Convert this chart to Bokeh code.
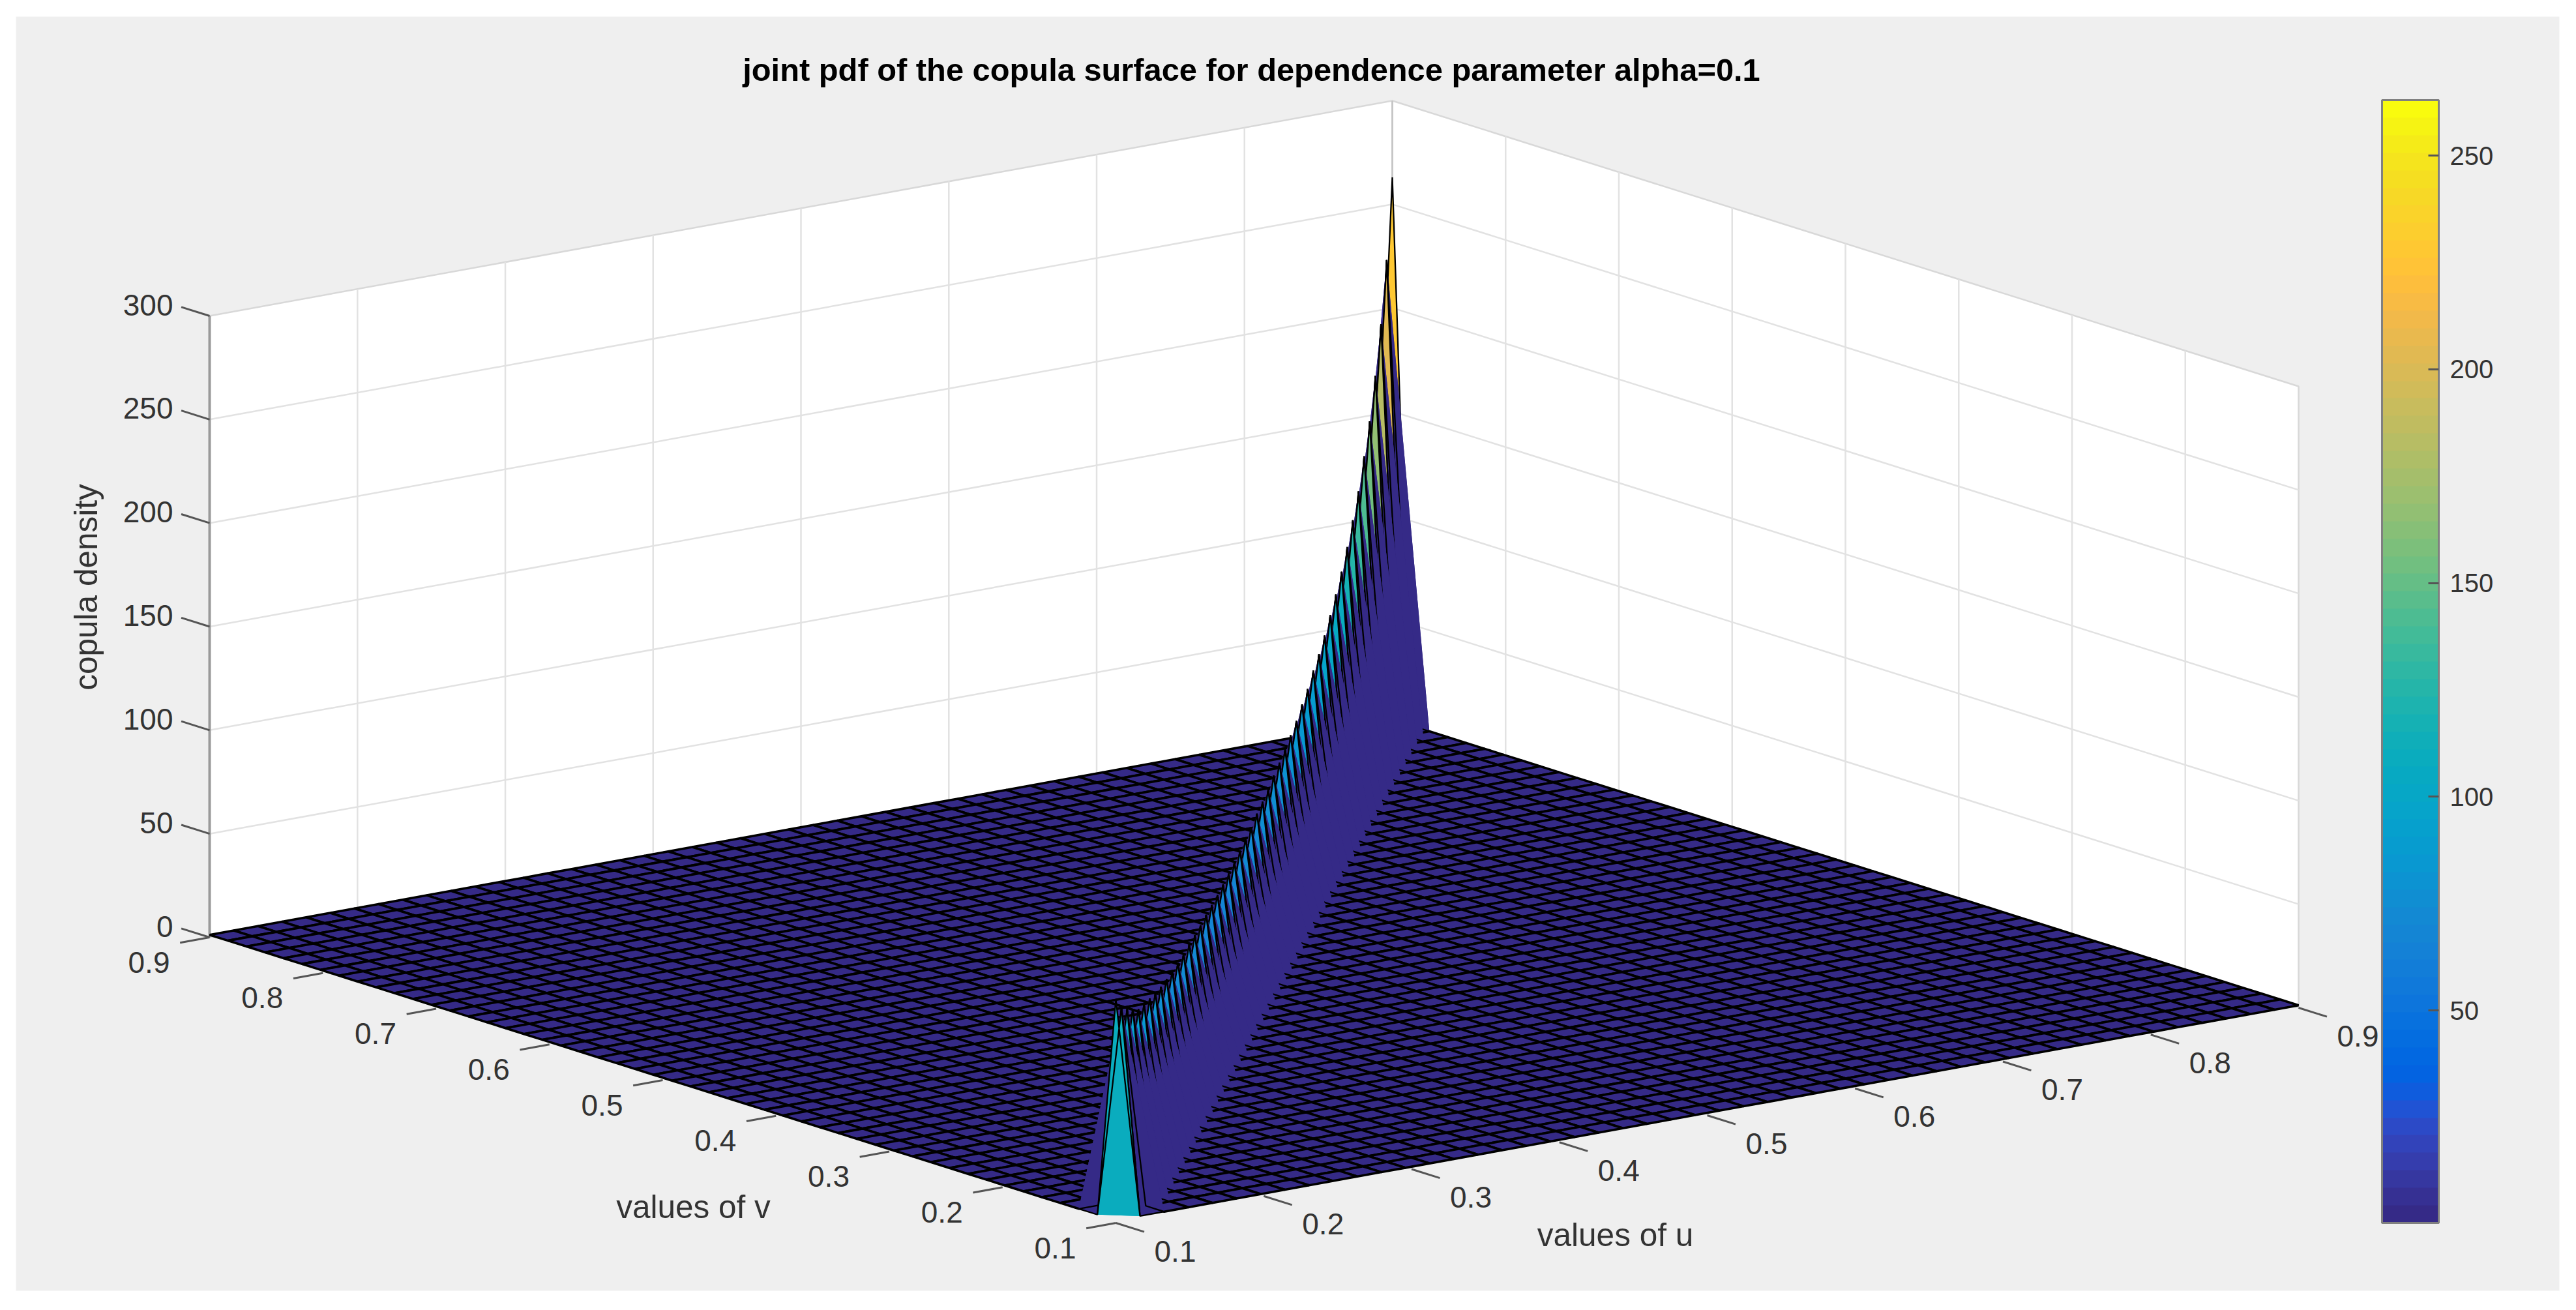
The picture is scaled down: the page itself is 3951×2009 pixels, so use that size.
from math import pi

from bokeh.core.properties import value
from bokeh.embed import file_html
from bokeh.models import ColorBar, ColumnDataSource, FixedTicker, LinearColorMapper, Range1d
from bokeh.plotting import figure
from bokeh.resources import INLINE
from bokeh.transform import transform

# mesh nodes, same for u and v
grid_nodes = [0.1000, 0.1163, 0.1327, 0.1490, 0.1653, 0.1816, 0.1980, 0.2143, 0.2306, 0.2469,
              0.2633, 0.2796, 0.2959, 0.3122, 0.3286, 0.3449, 0.3612, 0.3776, 0.3939, 0.4102,
              0.4265, 0.4429, 0.4592, 0.4755, 0.4918, 0.5082, 0.5245, 0.5408, 0.5571, 0.5735,
              0.5898, 0.6061, 0.6224, 0.6388, 0.6551, 0.6714, 0.6878, 0.7041, 0.7204, 0.7367,
              0.7531, 0.7694, 0.7857, 0.8020, 0.8184, 0.8347, 0.8510, 0.8673, 0.8837, 0.9000]
# density on the diagonal u=v, read from the spike
ridge_density = [108, 99, 93.4, 88.5, 83.5, 81, 78.7, 76.4, 74.6, 73.3,
                 72, 71.3, 70.6, 70.4, 69.8, 69.6, 69.8, 69.6, 69.5, 69.6,
                 70, 70.3, 71.2, 72, 72.8, 74.2, 75, 75.9, 77.9, 79,
                 80.6, 82.5, 84.5, 87.5, 90, 94, 97, 101, 106, 111,
                 117, 124, 132, 141, 153, 165, 182, 202, 228, 263]
flat_density = 1.2

uv_ticks = [0.1, 0.2, 0.3, 0.4, 0.5, 0.6, 0.7, 0.8, 0.9]
uv_labels = ["0.1", "0.2", "0.3", "0.4", "0.5", "0.6", "0.7", "0.8", "0.9"]
z_ticks = [0, 50, 100, 150, 200, 250, 300]
z_labels = ["0", "50", "100", "150", "200", "250", "300"]
cbar_ticks = [50, 100, 150, 200, 250]
cbar_low = 0.3
cbar_high = 263

title_text = "joint pdf of the copula surface for dependence parameter alpha=0.1"
u_label = "values of u"
v_label = "values of v"
z_label = "copula density"

# parula, 64 steps
parula_rgb = [
    (0.2081, 0.1663, 0.5292), (0.2116, 0.1898, 0.5777), (0.2123, 0.2138, 0.6270), (0.2081, 0.2386, 0.6771),
    (0.1959, 0.2645, 0.7279), (0.1707, 0.2919, 0.7792), (0.1253, 0.3242, 0.8303), (0.0591, 0.3598, 0.8683),
    (0.0117, 0.3875, 0.8820), (0.0060, 0.4086, 0.8828), (0.0165, 0.4266, 0.8786), (0.0329, 0.4430, 0.8720),
    (0.0498, 0.4586, 0.8641), (0.0629, 0.4737, 0.8554), (0.0723, 0.4887, 0.8467), (0.0779, 0.5040, 0.8384),
    (0.0793, 0.5200, 0.8312), (0.0749, 0.5375, 0.8263), (0.0641, 0.5570, 0.8240), (0.0488, 0.5772, 0.8228),
    (0.0343, 0.5966, 0.8199), (0.0265, 0.6137, 0.8135), (0.0239, 0.6287, 0.8038), (0.0231, 0.6418, 0.7913),
    (0.0228, 0.6535, 0.7768), (0.0267, 0.6642, 0.7607), (0.0384, 0.6743, 0.7436), (0.0590, 0.6838, 0.7254),
    (0.0843, 0.6928, 0.7062), (0.1133, 0.7015, 0.6859), (0.1453, 0.7098, 0.6646), (0.1801, 0.7177, 0.6424),
    (0.2178, 0.7250, 0.6193), (0.2586, 0.7317, 0.5954), (0.3022, 0.7376, 0.5712), (0.3482, 0.7424, 0.5473),
    (0.3953, 0.7459, 0.5244), (0.4420, 0.7481, 0.5033), (0.4871, 0.7491, 0.4840), (0.5300, 0.7491, 0.4661),
    (0.5709, 0.7485, 0.4494), (0.6099, 0.7473, 0.4337), (0.6473, 0.7456, 0.4188), (0.6834, 0.7435, 0.4044),
    (0.7184, 0.7411, 0.3905), (0.7525, 0.7384, 0.3768), (0.7858, 0.7356, 0.3633), (0.8185, 0.7327, 0.3498),
    (0.8507, 0.7299, 0.3360), (0.8824, 0.7274, 0.3217), (0.9139, 0.7258, 0.3063), (0.9450, 0.7261, 0.2886),
    (0.9739, 0.7314, 0.2666), (0.9938, 0.7455, 0.2403), (0.9990, 0.7653, 0.2164), (0.9955, 0.7861, 0.1967),
    (0.9880, 0.8066, 0.1794), (0.9789, 0.8271, 0.1633), (0.9697, 0.8481, 0.1475), (0.9626, 0.8705, 0.1309),
    (0.9589, 0.8949, 0.1132), (0.9598, 0.9218, 0.0948), (0.9661, 0.9514, 0.0755), (0.9763, 0.9831, 0.0538),
]
parula = ["#%02x%02x%02x" % (round(r * 255), round(g * 255), round(b * 255)) for r, g, b in parula_rgb]

# orthographic view, page pixels of the corner u=v=0.1,z=0 and the axis vectors
front_x, front_y = 1711, 1875
ux, uy = 1814 / 0.8, -330 / 0.8
vx, vy = -1390 / 0.8, -438 / 0.8
zy = -953 / 300


def project(u, v, z):
    x = front_x + (u - 0.1) * ux + (v - 0.1) * vx
    y = front_y + (u - 0.1) * uy + (v - 0.1) * vy + z * zy
    return x, y


def density(i, j):
    return ridge_density[i] if i == j else flat_density


def node(i, j):
    return project(grid_nodes[i], grid_nodes[j], density(i, j))


p = figure(width=3935, height=1993, output_backend="svg", toolbar_location=None,
           x_range=Range1d(0, 3935), y_range=Range1d(1993, 0), min_border=0)
p.axis.visible = False
p.grid.visible = False
p.outline_line_color = None
p.background_fill_color = "white"
p.border_fill_color = "white"

# grey window panel
p.quad(left=24, right=3925, top=25, bottom=1979, fill_color="#efefef", line_color=None)

# white back walls
wall_corners = [
    [(0.1, 0.9, 0), (0.9, 0.9, 0), (0.9, 0.9, 300), (0.1, 0.9, 300)],
    [(0.9, 0.9, 0), (0.9, 0.1, 0), (0.9, 0.1, 300), (0.9, 0.9, 300)],
]
wall_pts = [[project(*c) for c in wall] for wall in wall_corners]
p.patches([[q[0] for q in w] for w in wall_pts], [[q[1] for q in w] for w in wall_pts],
          fill_color="white", line_color="#d8d8d8", line_width=2.5)

# grid on the walls
gx, gy = [], []
for t in uv_ticks[1:-1]:
    a, b = project(t, 0.9, 0), project(t, 0.9, 300)
    gx.append([a[0], b[0]])
    gy.append([a[1], b[1]])
    a, b = project(0.9, t, 0), project(0.9, t, 300)
    gx.append([a[0], b[0]])
    gy.append([a[1], b[1]])
for z in z_ticks[1:-1]:
    pts = [project(0.1, 0.9, z), project(0.9, 0.9, z), project(0.9, 0.1, z)]
    gx.append([q[0] for q in pts])
    gy.append([q[1] for q in pts])
p.multi_line(gx, gy, line_color="#e2e2e2", line_width=2.5)

# back corner and z axis
a, b = project(0.9, 0.9, 0), project(0.9, 0.9, 300)
p.line([a[0], b[0]], [a[1], b[1]], line_color="#c4c4c4", line_width=2.5)
a, b = project(0.1, 0.9, 0), project(0.1, 0.9, 300)
p.line([a[0], b[0]], [a[1], b[1]], line_color="#9a9a9a", line_width=4)

# ticks and tick labels
tx, ty = [], []
for t in uv_ticks:
    a, b = project(t, 0.1, 0), project(t, 0.075, 0)
    tx.append([a[0], b[0]])
    ty.append([a[1], b[1]])
    a, b = project(0.1, t, 0), project(0.08, t, 0)
    tx.append([a[0], b[0]])
    ty.append([a[1], b[1]])
for z in z_ticks:
    a, b = project(0.1, 0.9, z), project(0.1, 0.925, z)
    tx.append([a[0], b[0]])
    ty.append([a[1], b[1]])
p.multi_line(tx, ty, line_color="#555555", line_width=3)

tick_font = value("Liberation Sans")
tick_size = "46px"
u_pts = [project(t, 0.1, 0) for t in uv_ticks]
v_pts = [project(0.1, t, 0) for t in uv_ticks]
z_pts = [project(0.1, 0.9, z) for z in z_ticks]
p.text([q[0] + 91 for q in u_pts], [q[1] + 43 for q in u_pts], text=uv_labels, text_align="center",
       text_baseline="middle", text_font=tick_font, text_font_size=tick_size, text_color="#333333")
p.text([q[0] - 93 for q in v_pts], [q[1] + 38 for q in v_pts], text=uv_labels, text_align="center",
       text_baseline="middle", text_font=tick_font, text_font_size=tick_size, text_color="#333333")
p.text([q[0] - 56 for q in z_pts], [q[1] - 17 for q in z_pts], text=z_labels, text_align="right",
       text_baseline="middle", text_font=tick_font, text_font_size=tick_size, text_color="#333333")

# surface, back to front so the nearer facets cover the others.
# facets touching the ridge are not flat, fill them as two triangles split on the
# same diagonal as the renderer of the picture, then draw the outline on top
n = len(grid_nodes)
cells = sorted(((i, j) for i in range(n - 1) for j in range(n - 1)), key=lambda c: -(c[0] + c[1]))
xs, ys, cdata, fill_a, line_a, line_w = [], [], [], [], [], []


def add_poly(pts, c, fa, la, lw):
    xs.append([q[0] for q in pts])
    ys.append([q[1] for q in pts])
    cdata.append(c)
    fill_a.append(fa)
    line_a.append(la)
    line_w.append(lw)


for i, j in cells:
    a, b, c, d = node(i, j), node(i + 1, j), node(i + 1, j + 1), node(i, j + 1)
    col = density(i, j)
    if abs(i - j) <= 1:
        add_poly([c, b, d], col, 1, 0, 2.3)
        add_poly([a, b, d], col, 1, 0, 2.3)
        add_poly([a, b, c, d], col, 0, 1, 2.3)
    else:
        add_poly([a, b, c, d], col, 1, 1, 3.6)

mapper = LinearColorMapper(palette=parula, low=cbar_low, high=cbar_high)
surface = ColumnDataSource(dict(xs=xs, ys=ys, c=cdata, fa=fill_a, la=line_a, lw=line_w))
p.patches("xs", "ys", source=surface, fill_color=transform("c", mapper), fill_alpha="fa",
          line_color="black", line_alpha="la", line_width="lw")

# axis titles
p.text([1919], [106], text=[title_text], text_align="center", text_baseline="middle",
       text_font=tick_font, text_font_size="48.8px", text_font_style="bold", text_color="black")
p.text([1063], [1850], text=[v_label], text_align="center", text_baseline="middle",
       text_font=tick_font, text_font_size="49.5px", text_color="#333333")
p.text([2477], [1893], text=[u_label], text_align="center", text_baseline="middle",
       text_font=tick_font, text_font_size="49.5px", text_color="#333333")
p.text([131], [900], text=[z_label], angle=pi / 2, text_align="center", text_baseline="middle",
       text_font=tick_font, text_font_size="49.5px", text_color="#333333")

cbar = ColorBar(color_mapper=mapper, ticker=FixedTicker(ticks=cbar_ticks), location=(3653, 118), width=87,
                height=1722, padding=0, margin=0, background_fill_alpha=0, border_line_color=None,
                bar_line_color="#808080", bar_line_width=3, major_tick_line_color="#555555",
                major_tick_line_width=3, major_tick_in=16, major_tick_out=0, minor_tick_line_color=None,
                label_standoff=17, major_label_text_font="Liberation Sans", major_label_text_font_size="40px",
                major_label_text_color="#333333")
p.add_layout(cbar)

open("out.html", "w").write(file_html(p, INLINE))
